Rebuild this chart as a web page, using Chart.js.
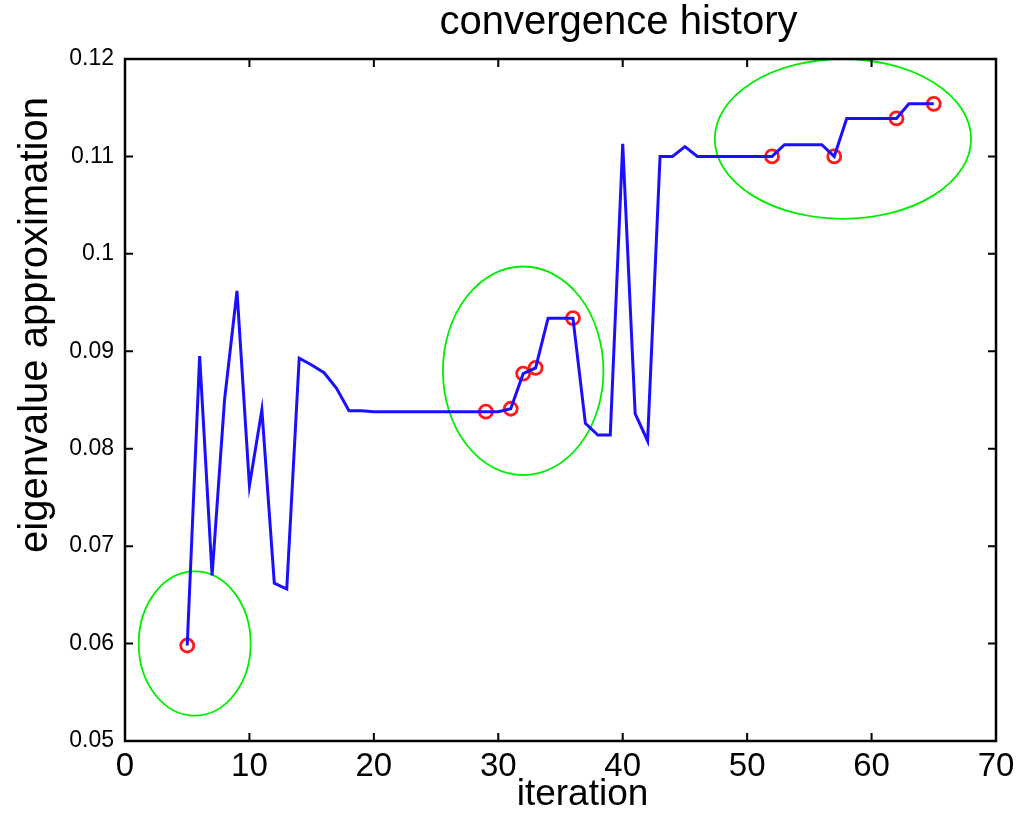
<!DOCTYPE html>
<html>
<head>
<meta charset="utf-8">
<script src="https://cdn.jsdelivr.net/npm/chart.js@4.4.1/dist/chart.umd.min.js"></script>
<style>
  html, body { margin: 0; padding: 0; background: #ffffff; }
  #wrap { width: 1035px; height: 813px; }
</style>
</head>
<body>
<div id="wrap"><canvas id="c" width="1035" height="813"></canvas></div>
<script>
// ---- data ----
const iterations = [5,6,7,8,9,10,11,12,13,14,15,16,17,18,19,20,21,22,23,24,25,26,27,28,29,30,31,32,33,34,35,36,37,38,39,40,41,42,43,44,45,46,47,48,49,50,51,52,53,54,55,56,57,58,59,60,61,62,63,64,65];
const eigenValues = [0.0598,0.0895,0.0670,0.0850,0.0962,0.0762,0.0840,0.0662,0.0656,0.0893,0.0886,0.0878,0.0862,0.0839,0.0839,0.0838,0.0838,0.0838,0.0838,0.0838,0.0838,0.0838,0.0838,0.0838,0.0838,0.0838,0.0841,0.0877,0.0883,0.0934,0.0934,0.0934,0.0826,0.0814,0.0814,0.1113,0.0836,0.0808,0.1100,0.1100,0.1110,0.1100,0.1100,0.1100,0.1100,0.1100,0.1100,0.1100,0.1112,0.1112,0.1112,0.1112,0.1100,0.1139,0.1139,0.1139,0.1139,0.1139,0.1154,0.1154,0.1154];
const markedIterations = [5,29,31,32,33,36,52,57,62,65];
const markedValues = [0.0598,0.0838,0.0841,0.0877,0.0883,0.0934,0.1100,0.1100,0.1139,0.1154];
// highlighted regions (ellipses in data units)
const ellipseCenterX = [5.6, 32.0, 57.7];
const ellipseCenterY = [0.0600, 0.0880, 0.1118];
const ellipseRadiusX = [4.5, 6.45, 10.3];
const ellipseRadiusY = [0.0074, 0.0107, 0.0082];
const xTickValues = [0,10,20,30,40,50,60,70];
const yTickValues = [0.05,0.06,0.07,0.08,0.09,0.10,0.11,0.12];
const titleText = 'convergence history';
const xTitle = 'iteration';
const yTitle = 'eigenvalue approximation';

const lineData = iterations.map((x, i) => ({ x: x, y: eigenValues[i] }));
const markData = markedIterations.map((x, i) => ({ x: x, y: markedValues[i] }));

const FONT = '"Liberation Sans", Arial, Helvetica, sans-serif';

const decorPlugin = {
  id: 'decor',
  beforeDatasetsDraw(chart) {
    const ctx = chart.ctx;
    const xs = chart.scales.x, ys = chart.scales.y;
    ctx.save();
    ctx.strokeStyle = '#00ee00';
    ctx.lineWidth = 1.8;
    for (let i = 0; i < ellipseCenterX.length; i++) {
      const cx = xs.getPixelForValue(ellipseCenterX[i]);
      const cy = ys.getPixelForValue(ellipseCenterY[i]);
      const rx = Math.abs(xs.getPixelForValue(ellipseCenterX[i] + ellipseRadiusX[i]) - cx);
      const ry = Math.abs(ys.getPixelForValue(ellipseCenterY[i] + ellipseRadiusY[i]) - cy);
      ctx.beginPath();
      ctx.ellipse(cx, cy, rx, ry, 0, 0, Math.PI * 2);
      ctx.stroke();
    }
    ctx.restore();
  },
  afterDraw(chart) {
    const ctx = chart.ctx;
    const a = chart.chartArea;
    const xs = chart.scales.x, ys = chart.scales.y;
    ctx.save();
    ctx.strokeStyle = '#000000';
    ctx.lineWidth = 2.5;
    ctx.strokeRect(a.left, a.top, a.right - a.left, a.bottom - a.top);
    ctx.lineWidth = 2;
    const tl = 8;
    ctx.beginPath();
    xTickValues.forEach(v => {
      const px = xs.getPixelForValue(v);
      ctx.moveTo(px, a.bottom); ctx.lineTo(px, a.bottom - tl);
      ctx.moveTo(px, a.top); ctx.lineTo(px, a.top + tl);
    });
    yTickValues.forEach(v => {
      const py = ys.getPixelForValue(v);
      ctx.moveTo(a.left, py); ctx.lineTo(a.left + tl, py);
      ctx.moveTo(a.right, py); ctx.lineTo(a.right - tl, py);
    });
    ctx.stroke();

    ctx.fillStyle = '#000000';
    // title
    ctx.font = '40px ' + FONT;
    ctx.textAlign = 'center';
    ctx.textBaseline = 'alphabetic';
    ctx.fillText(titleText, (a.left + a.right) / 2 + 58, 34);
    // x title
    ctx.font = '37px ' + FONT;
    ctx.fillText(xTitle, (a.left + a.right) / 2 + 22, 805);
    // y title
    ctx.translate(47, (a.top + a.bottom) / 2 - 75);
    ctx.rotate(-Math.PI / 2);
    ctx.font = '40px ' + FONT;
    ctx.textAlign = 'center';
    ctx.fillText(yTitle, 0, 0);
    ctx.restore();
  }
};

new Chart(document.getElementById('c'), {
  type: 'line',
  data: {
    datasets: [
      {
        data: lineData,
        borderColor: '#1a10ff',
        borderWidth: 3,
        pointRadius: 0,
        fill: false,
        tension: 0
      },
      {
        type: 'scatter',
        data: markData,
        showLine: false,
        borderColor: '#ff1a1a',
        backgroundColor: 'rgba(0,0,0,0)',
        borderWidth: 2.8,
        pointRadius: 6.5,
        pointStyle: 'circle'
      }
    ]
  },
  options: {
    responsive: false,
    animation: false,
    devicePixelRatio: 1,
    layout: { padding: { top: 59, right: 39, left: 0, bottom: 0 } },
    plugins: {
      legend: { display: false },
      tooltip: { enabled: false },
      title: { display: false }
    },
    scales: {
      x: {
        type: 'linear',
        min: 0, max: 70,
        afterFit(scale) { scale.height = 72; },
        afterBuildTicks(scale) { scale.ticks = xTickValues.map(v => ({ value: v })); },
        grid: { display: false, drawTicks: false },
        border: { display: false },
        ticks: {
          color: '#000',
          font: { family: FONT, size: 33 },
          padding: 6,
          maxRotation: 0,
          autoSkip: false,
          callback: (v) => String(v)
        }
      },
      y: {
        type: 'linear',
        min: 0.05, max: 0.12,
        afterFit(scale) { scale.width = 125; },
        afterBuildTicks(scale) { scale.ticks = yTickValues.map(v => ({ value: v })); },
        grid: { display: false, drawTicks: false },
        border: { display: false },
        ticks: {
          color: '#000',
          font: { family: FONT, size: 23 },
          padding: 11,
          autoSkip: false,
          callback: (v) => {
            const r = Math.round(v * 100) / 100;
            return r === 0.1 ? '0.1' : r.toFixed(2);
          }
        }
      }
    }
  },
  plugins: [decorPlugin]
});
</script>
</body>
</html>
